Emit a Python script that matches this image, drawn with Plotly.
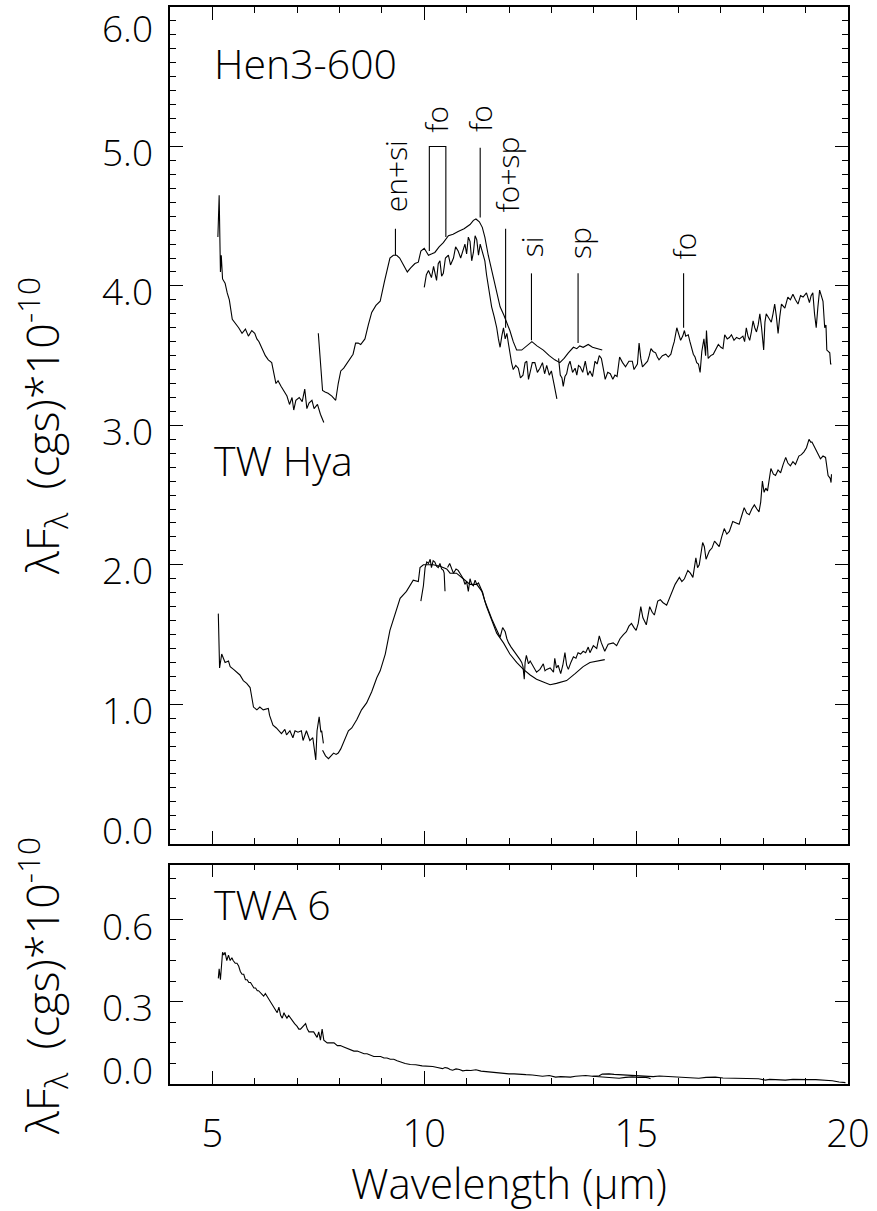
import plotly.graph_objects as go

# ---------------- data ----------------
# Hen3-600, short-wavelength noisy piece
hen_a_x = [5.13, 5.16, 5.19, 5.21, 5.24, 5.30, 5.35, 5.40, 5.47, 5.55, 5.62, 5.70, 5.78, 5.85, 5.93, 6.00, 6.05,
           6.10, 6.18, 6.25, 6.32, 6.40, 6.50, 6.55, 6.62, 6.70, 6.76, 6.82, 6.88, 6.92, 6.97, 7.05, 7.12, 7.18,
           7.23, 7.28, 7.35, 7.40, 7.48, 7.55, 7.63]
hen_a_y = [4.35, 4.65, 4.10, 4.22, 4.05, 4.02, 3.95, 3.90, 3.76, 3.73, 3.70, 3.66, 3.69, 3.64, 3.68, 3.66, 3.62,
           3.60, 3.55, 3.50, 3.47, 3.45, 3.30, 3.32, 3.28, 3.24, 3.21, 3.15, 3.20, 3.11, 3.18, 3.20, 3.17, 3.26,
           3.12, 3.16, 3.18, 3.12, 3.15, 3.08, 3.02]
# Hen3-600, smooth spectrum 7.5-14.2
hen_b_x = [7.50, 7.60, 7.66, 7.73, 7.82, 7.91, 7.97, 8.03, 8.10, 8.17, 8.25, 8.32, 8.38, 8.44, 8.50, 8.60, 8.68,
           8.76, 8.86, 8.96, 9.06, 9.19, 9.27, 9.35, 9.42, 9.51, 9.60, 9.68, 9.78, 9.86, 9.92, 10.00, 10.10,
           10.18, 10.25, 10.35, 10.45, 10.57, 10.68, 10.80, 10.94, 11.08, 11.16, 11.22, 11.30, 11.37, 11.43,
           11.51, 11.59, 11.69, 11.79, 11.88, 11.95, 12.02, 12.10, 12.18, 12.30, 12.42, 12.54, 12.66, 12.81,
           12.95, 13.08, 13.20, 13.30, 13.40, 13.52, 13.60, 13.67, 13.75, 13.87, 13.97, 14.07, 14.20]
hen_b_y = [3.66, 3.25, 3.24, 3.23, 3.21, 3.18, 3.30, 3.39, 3.41, 3.44, 3.48, 3.51, 3.59, 3.59, 3.58, 3.62, 3.72,
           3.81, 3.86, 3.89, 4.03, 4.20, 4.22, 4.22, 4.20, 4.15, 4.10, 4.13, 4.16, 4.17, 4.25, 4.27, 4.22,
           4.23, 4.24, 4.28, 4.31, 4.36, 4.37, 4.39, 4.41, 4.44, 4.47, 4.48, 4.46, 4.42, 4.35,
           4.22, 4.11, 3.98, 3.85, 3.79, 3.74, 3.68, 3.60, 3.54, 3.54, 3.57, 3.60, 3.57, 3.54,
           3.50, 3.47, 3.45, 3.48, 3.52, 3.56, 3.55, 3.57, 3.56, 3.58, 3.56, 3.55, 3.54]
# Hen3-600, noisy spectrum 10.0-13.1
hen_c_x = [10.00, 10.05, 10.10, 10.17, 10.22, 10.29, 10.33, 10.37, 10.41, 10.45, 10.50, 10.57, 10.62, 10.69,
           10.74, 10.80, 10.86, 10.92, 10.96, 11.00, 11.04, 11.08, 11.12, 11.16, 11.20, 11.24, 11.28, 11.32,
           11.37, 11.43, 11.47, 11.51, 11.55, 11.59, 11.65, 11.71, 11.75, 11.79, 11.83, 11.87, 11.91, 11.95,
           11.99, 12.02, 12.06, 12.10, 12.16, 12.22, 12.27, 12.33, 12.38, 12.42, 12.46, 12.49, 12.55, 12.61,
           12.67, 12.73, 12.79, 12.84, 12.89, 12.95, 13.00, 13.06, 13.13]
hen_c_y = [3.99, 4.08, 4.11, 4.06, 4.14, 4.04, 4.16, 4.18, 4.07, 4.09, 4.20, 4.22, 4.15, 4.20,
           4.28, 4.25, 4.20, 4.26, 4.30, 4.23, 4.35, 4.32, 4.18, 4.24, 4.36, 4.33, 4.22, 4.30,
           4.25, 4.18, 4.08, 3.99, 3.90, 3.85, 3.78, 3.70, 3.62, 3.56, 3.64, 3.70, 3.62, 3.66,
           3.58, 3.52, 3.45, 3.40, 3.43, 3.41, 3.34, 3.36, 3.45, 3.46, 3.33, 3.37, 3.45, 3.45,
           3.38, 3.41, 3.45, 3.37, 3.43, 3.36, 3.39, 3.30, 3.19]
# Hen3-600, noisy spectrum 13.2-19.6
hen_d_x = [13.17, 13.21, 13.25, 13.28, 13.32, 13.36, 13.40, 13.44, 13.50, 13.56, 13.60, 13.64, 13.68, 13.74,
           13.80, 13.86, 13.91, 13.97, 14.03, 14.08, 14.13, 14.18, 14.23, 14.27, 14.33, 14.39, 14.45, 14.50,
           14.55, 14.61, 14.68, 14.75, 14.83, 14.91, 14.95, 14.99, 15.03, 15.07, 15.11, 15.15, 15.21, 15.27,
           15.31, 15.35, 15.40, 15.46, 15.50, 15.54, 15.62, 15.70, 15.76, 15.82, 15.86, 15.90, 15.96, 16.00,
           16.05, 16.10, 16.14, 16.17, 16.23, 16.27, 16.31, 16.35, 16.39, 16.43, 16.47, 16.51, 16.55, 16.60,
           16.64, 16.66, 16.70, 16.76, 16.82, 16.88, 16.94, 17.00, 17.05, 17.09, 17.15, 17.20, 17.25, 17.31,
           17.37, 17.44, 17.52, 17.56, 17.60, 17.64, 17.68, 17.72, 17.76, 17.80, 17.84, 17.88, 17.92, 17.96,
           18.01, 18.04, 18.07, 18.13, 18.19, 18.23, 18.27, 18.31, 18.35, 18.39, 18.43, 18.51, 18.58, 18.64,
           18.70, 18.76, 18.82, 18.88, 18.94, 19.02, 19.09, 19.13, 19.17, 19.21, 19.25, 19.29, 19.33, 19.37,
           19.41, 19.45, 19.48, 19.50, 19.57, 19.59, 19.61]
hen_d_y = [3.48, 3.36, 3.34, 3.28, 3.35, 3.37, 3.43, 3.46, 3.38, 3.41, 3.36, 3.43, 3.42, 3.38,
           3.46, 3.36, 3.39, 3.35, 3.46, 3.44, 3.50, 3.48, 3.40, 3.33, 3.38, 3.37, 3.33, 3.36,
           3.35, 3.49, 3.45, 3.42, 3.46, 3.46, 3.40, 3.42, 3.44, 3.59, 3.48, 3.42, 3.44, 3.46,
           3.50, 3.55, 3.53, 3.52, 3.49, 3.47, 3.50, 3.51, 3.49, 3.51, 3.56, 3.60, 3.70, 3.66,
           3.61, 3.64, 3.68, 3.64, 3.65, 3.60, 3.56, 3.51, 3.49, 3.45, 3.44, 3.38, 3.53, 3.62,
           3.50, 3.68, 3.48, 3.50, 3.51, 3.55, 3.58, 3.56, 3.55, 3.65, 3.62, 3.63, 3.65, 3.61,
           3.63, 3.62, 3.64, 3.60, 3.70, 3.64, 3.61, 3.67, 3.75, 3.70, 3.67, 3.72, 3.80, 3.70,
           3.54, 3.74, 3.80, 3.77, 3.74, 3.80, 3.87, 3.78, 3.66, 3.78, 3.87, 3.84, 3.92, 3.90,
           3.94, 3.90, 3.87, 3.93, 3.92, 3.95, 3.88, 3.93, 3.95, 3.80, 3.70, 3.85, 3.97, 3.93,
           3.89, 3.70, 3.72, 3.54, 3.52, 3.44, 3.44]

# TW Hya, short-wavelength noisy piece
tw_e_x = [5.14, 5.16, 5.17, 5.22, 5.30, 5.38, 5.42, 5.50, 5.57, 5.65, 5.73, 5.81, 5.89, 5.97, 6.05, 6.12, 6.20,
          6.32, 6.35, 6.43, 6.51, 6.63, 6.71, 6.75, 6.83, 6.90, 6.95, 7.02, 7.10, 7.14, 7.22, 7.30, 7.37, 7.44,
          7.47, 7.52, 7.56, 7.58, 7.62]
tw_e_y = [1.65, 1.29, 1.26, 1.36, 1.30, 1.31, 1.27, 1.25, 1.23, 1.21, 1.17, 1.15, 1.12, 0.98, 0.96, 0.98, 0.96,
          0.97, 0.92, 0.85, 0.83, 0.79, 0.82, 0.78, 0.81, 0.76, 0.81, 0.80, 0.81, 0.74, 0.81, 0.74, 0.76, 0.60,
          0.81, 0.91, 0.80, 0.81, 0.72]
# TW Hya, smooth spectrum 7.6-14.3
tw_f_x = [7.60, 7.67, 7.74, 7.80, 7.86, 7.92, 7.97, 8.03, 8.09, 8.15, 8.21, 8.29, 8.35, 8.41, 8.52, 8.64, 8.76,
          8.88, 8.96, 9.08, 9.19, 9.31, 9.43, 9.58, 9.74, 9.86, 9.90, 9.98, 10.21, 10.37, 10.53, 10.61, 10.76,
          10.92, 11.08, 11.24, 11.36, 11.47, 11.59, 11.71, 11.87, 12.02, 12.18, 12.34, 12.50, 12.65, 12.81,
          12.97, 13.12, 13.28, 13.36, 13.56, 13.75, 13.91, 14.07, 14.26]
tw_f_y = [0.67, 0.63, 0.61, 0.63, 0.65, 0.64, 0.65, 0.68, 0.72, 0.77, 0.81, 0.83, 0.86, 0.89, 0.96, 1.01, 1.09,
          1.19, 1.24, 1.36, 1.53, 1.65, 1.76, 1.81, 1.89, 1.88, 1.98, 2.00, 2.00, 1.99, 1.97, 1.94, 1.94,
          1.90, 1.86, 1.86, 1.81, 1.70, 1.60, 1.51, 1.44, 1.36, 1.30, 1.25, 1.21, 1.18, 1.16,
          1.14, 1.15, 1.16, 1.17, 1.22, 1.27, 1.30, 1.31, 1.32]
# TW Hya, noisy piece 9.9-10.5
tw_g1_x = [9.92, 9.95, 9.98, 10.02, 10.06, 10.10, 10.14, 10.17, 10.21, 10.25, 10.29, 10.33, 10.37, 10.41,
           10.45, 10.47, 10.49]
tw_g1_y = [1.74, 1.80, 1.85, 1.98, 2.02, 2.01, 2.04, 1.98, 2.03, 2.02, 1.99, 1.98, 2.01, 1.97,
           1.96, 1.94, 1.81]
# TW Hya, noisy spectrum 10.5-19.6
tw_g2_x = [10.55, 10.60, 10.65, 10.69, 10.75, 10.80, 10.86, 10.92, 10.96, 11.00, 11.04, 11.08, 11.12, 11.16,
           11.20, 11.24, 11.28, 11.32, 11.38, 11.43, 11.49, 11.55, 11.61, 11.67, 11.73, 11.79, 11.85, 11.91,
           11.95, 11.99, 12.05, 12.10, 12.16, 12.22, 12.26, 12.30, 12.33, 12.36, 12.38, 12.41, 12.46, 12.50,
           12.54, 12.60, 12.65, 12.73, 12.81, 12.85, 12.89, 12.97, 13.05, 13.08, 13.12, 13.16, 13.22, 13.27,
           13.32, 13.36, 13.40, 13.46, 13.52, 13.58, 13.63, 13.69, 13.75, 13.81, 13.87, 13.91, 13.95, 13.99,
           14.07, 14.13, 14.18, 14.26, 14.34, 14.46, 14.54, 14.62, 14.70, 14.77, 14.83, 14.89, 14.95, 15.00,
           15.05, 15.11, 15.16, 15.20, 15.24, 15.32, 15.38, 15.43, 15.51, 15.57, 15.63, 15.72, 15.82, 15.87,
           15.92, 16.02, 16.08, 16.14, 16.22, 16.28, 16.34, 16.41, 16.45, 16.49, 16.53, 16.57, 16.61, 16.65,
           16.73, 16.79, 16.85, 16.91, 16.96, 17.02, 17.08, 17.14, 17.20, 17.28, 17.36, 17.43, 17.49, 17.55,
           17.61, 17.67, 17.73, 17.79, 17.85, 17.90, 17.94, 17.98, 18.02, 18.06, 18.10, 18.14, 18.18, 18.24,
           18.29, 18.35, 18.41, 18.47, 18.53, 18.58, 18.64, 18.70, 18.76, 18.84, 18.90, 18.96, 19.02, 19.08,
           19.12, 19.15, 19.20, 19.23, 19.29, 19.35, 19.41, 19.47, 19.53, 19.58, 19.60, 19.61]
tw_g2_y = [1.98, 2.01, 1.97, 1.94, 1.97, 1.96, 1.93, 1.90, 1.86, 1.88, 1.81, 1.90, 1.86, 1.85,
           1.89, 1.86, 1.87, 1.84, 1.80, 1.74, 1.69, 1.64, 1.60, 1.56, 1.52, 1.48, 1.55, 1.52,
           1.47, 1.44, 1.41, 1.39, 1.36, 1.34, 1.32, 1.30, 1.27, 1.18, 1.30, 1.35, 1.29, 1.31,
           1.29, 1.26, 1.23, 1.25, 1.29, 1.24, 1.25, 1.26, 1.23, 1.33, 1.26, 1.28, 1.22, 1.28,
           1.37, 1.28, 1.25, 1.30, 1.34, 1.33, 1.37, 1.36, 1.38, 1.37, 1.41, 1.37, 1.40, 1.42,
           1.40, 1.49, 1.44, 1.38, 1.43, 1.44, 1.42, 1.47, 1.50, 1.52, 1.56, 1.58, 1.55, 1.53,
           1.58, 1.70, 1.62, 1.60, 1.57, 1.70, 1.66, 1.64, 1.74, 1.75, 1.73, 1.71, 1.78, 1.82,
           1.86, 1.91, 1.88, 1.90, 1.96, 1.94, 1.91, 2.05, 1.98, 2.00, 2.09, 2.16, 2.13, 2.04,
           2.10, 2.12, 2.17, 2.15, 2.13, 2.20, 2.26, 2.22, 2.24, 2.31, 2.30, 2.29, 2.35, 2.41,
           2.37, 2.36, 2.40, 2.43, 2.40, 2.38, 2.45, 2.60, 2.52, 2.55, 2.53, 2.62, 2.69, 2.65,
           2.64, 2.68, 2.66, 2.72, 2.77, 2.73, 2.71, 2.74, 2.72, 2.78, 2.79, 2.81, 2.84, 2.90,
           2.88, 2.88, 2.85, 2.83, 2.80, 2.76, 2.78, 2.77, 2.64, 2.62, 2.59, 2.65]

# TWA 6 (lower panel)
twa_x = [5.14, 5.16, 5.19, 5.22, 5.24, 5.27, 5.30, 5.34, 5.38, 5.42, 5.46, 5.49, 5.54, 5.58, 5.62, 5.66, 5.70,
         5.74, 5.78, 5.82, 5.86, 5.90, 5.94, 5.98, 6.02, 6.06, 6.09, 6.15, 6.21, 6.25, 6.29, 6.33, 6.37, 6.41,
         6.45, 6.49, 6.53, 6.57, 6.61, 6.65, 6.69, 6.72, 6.76, 6.80, 6.84, 6.88, 6.94, 7.00, 7.04, 7.08, 7.14,
         7.20, 7.24, 7.28, 7.34, 7.39, 7.43, 7.47, 7.51, 7.55, 7.59, 7.63, 7.71, 7.80, 7.87, 7.95, 8.02, 8.10,
         8.18, 8.26, 8.34, 8.42, 8.50, 8.58, 8.65, 8.73, 8.81, 8.89, 8.97, 9.05, 9.12, 9.20, 9.28, 9.36, 9.44,
         9.55, 9.67, 9.80, 9.95, 10.10, 10.20, 10.31, 10.43, 10.49, 10.55, 10.61, 10.67, 10.75, 10.83, 10.91,
         11.00, 11.10, 11.22, 11.34, 11.46, 11.60, 11.77, 11.88, 12.00, 12.12, 12.24, 12.40, 12.55, 12.67,
         12.79, 12.95, 13.10, 13.22, 13.34, 13.45, 13.57, 13.70, 13.81, 13.97, 14.13, 14.20, 14.36, 14.48,
         14.60, 14.75, 14.91, 15.05, 15.22, 15.40, 15.55, 15.69, 15.85, 16.08, 16.25, 16.48, 16.65, 16.87,
         17.05, 17.26, 17.45, 17.66, 17.89, 18.05, 18.15, 18.29, 18.52, 18.70, 18.84, 19.05, 19.24, 19.47,
         19.63, 19.79, 19.94]
twa_y = [0.385, 0.42, 0.38, 0.44, 0.48, 0.47, 0.48, 0.45, 0.47, 0.45, 0.46, 0.45, 0.44, 0.44, 0.43, 0.41, 0.40,
         0.40, 0.38, 0.38, 0.37, 0.37, 0.36, 0.35, 0.35, 0.34, 0.34, 0.33, 0.32, 0.33, 0.32, 0.31, 0.30, 0.29,
         0.28, 0.27, 0.26, 0.28, 0.25, 0.24, 0.26, 0.25, 0.24, 0.25, 0.24, 0.23, 0.22, 0.21, 0.20, 0.20, 0.21,
         0.22, 0.20, 0.19, 0.19, 0.19, 0.18, 0.17, 0.19, 0.16, 0.20, 0.16, 0.15, 0.15, 0.15, 0.14, 0.14, 0.135,
         0.13, 0.125, 0.12, 0.12, 0.115, 0.11, 0.11, 0.105, 0.10, 0.10, 0.10, 0.095, 0.095, 0.09, 0.09, 0.085,
         0.08, 0.075, 0.071, 0.07, 0.066, 0.065, 0.064, 0.060, 0.056, 0.060, 0.058, 0.053, 0.050, 0.055, 0.053,
         0.048, 0.050, 0.049, 0.052, 0.047, 0.045, 0.043, 0.040, 0.039, 0.037, 0.037, 0.035, 0.034, 0.033,
         0.031, 0.028, 0.031, 0.025, 0.027, 0.027, 0.025, 0.028, 0.029, 0.031, 0.028, 0.030, 0.036, 0.037,
         0.035, 0.034, 0.033, 0.031, 0.030, 0.027, 0.027, 0.029, 0.028, 0.028, 0.025, 0.023, 0.021, 0.024,
         0.025, 0.022, 0.021, 0.022, 0.021, 0.019, 0.014, 0.017, 0.016, 0.014, 0.017, 0.016, 0.016, 0.016,
         0.014, 0.012, 0.007, 0.005]
twa_b_x = [13.97, 14.10, 14.28, 14.45, 14.60, 14.75, 14.91, 15.05, 15.20, 15.30, 15.34]
twa_b_y = [0.028, 0.027, 0.025, 0.022, 0.021, 0.024, 0.026, 0.024, 0.025, 0.022, 0.019]

# feature identifications (Hen3-600)
feat_labels = ["en+si", "fo", "fo", "fo+sp", "si", "sp", "fo"]
feat_x = [9.32, 10.30, 11.32, 11.95, 12.55, 13.66, 16.15]
feat_label_y = [4.79, 5.20, 5.20, 4.80, 4.28, 4.31, 4.29]
feat_line_x = [9.32, None, 11.32, 11.92, 12.53, 13.63, 16.12]
feat_line_y0 = [4.22, None, 4.49, 3.70, 3.61, 3.59, 3.70]
feat_line_y1 = [4.41, None, 4.99, 4.41, 4.09, 4.09, 4.09]
bracket_x = [10.12, 10.12, 10.51, 10.51]
bracket_y = [4.25, 5.00, 5.00, 4.35]

# panel names
panel_names = ["Hen3-600", "TW Hya", "TWA 6"]
panel_name_x = [5.0, 5.0, 5.0]
panel_name_y = [5.6, 2.75, 0.655]

# axis ticks
top_ytick_vals = [0, 1, 2, 3, 4, 5, 6]
top_ytick_text = ["0.0", "1.0", "2.0", "3.0", "4.0", "5.0", "6.0"]
bot_ytick_vals = [0.0, 0.3, 0.6]
bot_ytick_text = ["0.0", "0.3", "0.6"]
xtick_vals = [5, 10, 15, 20]
xtick_text = ["5", "10", "15", "20"]

# ---------------- figure ----------------
FONT = "Open Sans"
FW = 300
LW = 1.1
fig = go.Figure()

def fnt(size):
    return dict(size=size, family=FONT, color="black", weight=FW)

def add_line(x, y, xa="x", ya="y"):
    fig.add_trace(go.Scatter(x=x, y=y, mode="lines", xaxis=xa, yaxis=ya,
                             line=dict(color="black", width=LW), showlegend=False, hoverinfo="skip"))

for xs, ys in [(hen_a_x, hen_a_y), (hen_b_x, hen_b_y), (hen_c_x, hen_c_y), (hen_d_x, hen_d_y),
               (tw_e_x, tw_e_y), (tw_f_x, tw_f_y), (tw_g1_x, tw_g1_y), (tw_g2_x, tw_g2_y)]:
    add_line(xs, ys)
add_line(twa_x, twa_y, "x2", "y2")
add_line(twa_b_x, twa_b_y, "x2", "y2")

# feature marker lines
for lx, y0, y1 in zip(feat_line_x, feat_line_y0, feat_line_y1):
    if lx is None:
        continue
    fig.add_shape(type="line", xref="x", yref="y", x0=lx, x1=lx, y0=y0, y1=y1,
                  line=dict(color="black", width=LW))
fig.add_trace(go.Scatter(x=bracket_x, y=bracket_y, mode="lines", xaxis="x", yaxis="y",
                         line=dict(color="black", width=LW), showlegend=False, hoverinfo="skip"))

annotations = []
for t, x, y in zip(feat_labels, feat_x, feat_label_y):
    annotations.append(dict(text=t, x=x, y=y, xref="x", yref="y", showarrow=False, textangle=-90,
                            xanchor="center", yanchor="middle", font=fnt(30)))

# panel names
for i, (t, x, y) in enumerate(zip(panel_names, panel_name_x, panel_name_y)):
    annotations.append(dict(text=t, x=x, y=y, xref="x" if i < 2 else "x2", yref="y" if i < 2 else "y2",
                            showarrow=False, xanchor="left", yanchor="middle", font=fnt(41)))

# y tick labels
def ytick_labels(vals, texts, yref):
    n = len(vals)
    for k, (v, t) in enumerate(zip(vals, texts)):
        if k == 0:
            ys = 14
        elif k == n - 1:
            ys = -20 if yref == "y" else -6
        else:
            ys = -5
        annotations.append(dict(text=t, x=0, y=v, xref="paper", yref=yref, showarrow=False,
                                xanchor="right", yanchor="middle", xshift=-15, yshift=ys, font=fnt(37)))

ytick_labels(top_ytick_vals, top_ytick_text, "y")
ytick_labels(bot_ytick_vals, bot_ytick_text, "y2")

# y titles
ytitle = "λF<sub>λ</sub>  (cgs)*10<sup>-10</sup>"
for yc in [0.611, 0.091]:
    annotations.append(dict(text=ytitle, x=0, y=yc, xref="paper", yref="paper", showarrow=False,
                            textangle=-90, xanchor="center", yanchor="middle", xshift=-128, font=fnt(45)))

axis_common = dict(showline=True, linecolor="black", linewidth=1.6, mirror="allticks", ticks="inside",
                   tickcolor="black", tickwidth=1.2, ticklen=13, showgrid=False, zeroline=False)
minor_common = dict(ticks="inside", ticklen=6, tick0=0, tickcolor="black", tickwidth=1.2)

fig.update_layout(
    width=877, height=1211,
    margin=dict(l=170, r=29, t=5, b=127),
    paper_bgcolor="white", plot_bgcolor="white",
    font=dict(family=FONT, color="black", weight=FW),
    xaxis=dict(domain=[0, 1], anchor="y", range=[4, 20], tickvals=xtick_vals, showticklabels=False,
               minor=dict(dtick=1, **minor_common), **axis_common),
    yaxis=dict(domain=[0.2231, 1], anchor="x", range=[0, 6], tickvals=top_ytick_vals, showticklabels=False,
               minor=dict(dtick=0.1, **minor_common), **axis_common),
    xaxis2=dict(domain=[0, 1], anchor="y2", range=[4, 20], tickvals=xtick_vals, ticktext=xtick_text,
                tickfont=fnt(38), ticklabelstandoff=16,
                minor=dict(dtick=1, **minor_common),
                title=dict(text="Wavelength (μm)", font=fnt(42), standoff=4),
                **axis_common),
    yaxis2=dict(domain=[0, 0.2038], anchor="x2", range=[0, 0.8], tickvals=bot_ytick_vals, showticklabels=False,
                minor=dict(dtick=0.075, **minor_common), **axis_common),
    annotations=annotations,
)

fig.write_html("out.html", config={"displayModeBar": False},
               post_script="document.body.style.margin='0px';document.body.style.overflow='hidden';")
